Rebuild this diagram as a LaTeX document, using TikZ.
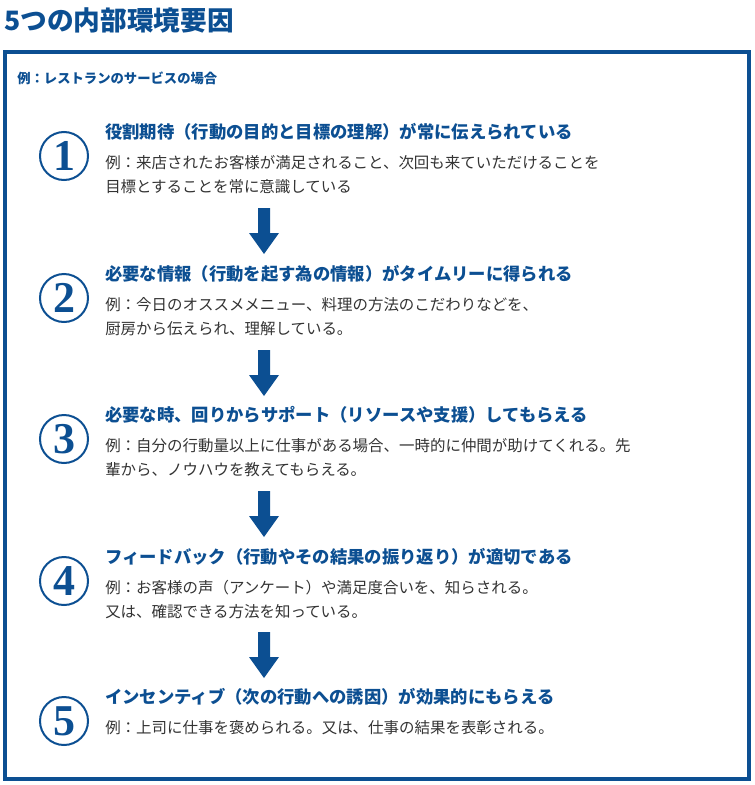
\documentclass[tikz,border=0pt]{standalone}
\usepackage{fontspec}
\setmainfont{Liberation Serif}
\newfontfamily\jpfont{Noto Sans CJK JP}
\usetikzlibrary{positioning}
\definecolor{mainblue}{HTML}{0C4F92}
\definecolor{bodygray}{HTML}{333333}
\begin{document}
\begin{tikzpicture}[x=0.75pt,y=-0.75pt,
  heading/.style={anchor=west, inner sep=0pt, text=mainblue, font=\jpfont\fontsize{13}{15}\selectfont\bfseries},
  body/.style={anchor=north west, inner sep=0pt, text=bodygray, align=left, font=\jpfont\fontsize{11.6}{18}\selectfont},
  numcircle/.style={circle, draw=mainblue, line width=1.5pt, minimum size=36pt, inner sep=0pt, text=mainblue, font=\fontsize{33}{33}\selectfont\bfseries},
  downarrow/.style={fill=mainblue}]
  \useasboundingbox (0,0) rectangle (755,785);
  \node[anchor=west, inner sep=0pt, text=mainblue, font=\jpfont\fontsize{20}{22}\selectfont\bfseries] (title) at (4,20) {5つの内部環境要因};
  \draw[mainblue, line width=2.4pt] (5,52) rectangle (749,779);
  \node[anchor=west, inner sep=0pt, text=mainblue, font=\jpfont\fontsize{10}{12}\selectfont\bfseries] (case) at (17,78) {例：レストランのサービスの場合};
  % items
  \foreach \y/\n/\head/\txt in {
    132/1/{役割期待（行動の目的と目標の理解）が常に伝えられている}/{例：来店されたお客様が満足されること、次回も来ていただけることを\\目標とすることを常に意識している},
    274/2/{必要な情報（行動を起す為の情報）がタイムリーに得られる}/{例：今日のオススメメニュー、料理の方法のこだわりなどを、\\厨房から伝えられ、理解している。},
    415/3/{必要な時、回りからサポート（リソースや支援）してもらえる}/{例：自分の行動量以上に仕事がある場合、一時的に仲間が助けてくれる。先\\輩から、ノウハウを教えてもらえる。},
    557/4/{フィードバック（行動やその結果の振り返り）が適切である}/{例：お客様の声（アンケート）や満足度合いを、知らされる。\\又は、確認できる方法を知っている。},
    697/5/{インセンティブ（次の行動への誘因）が効果的にもらえる}/{例：上司に仕事を褒められる。又は、仕事の結果を表彰される。}} {
    \node[numcircle] (num\n) at (64,\y+24) {\n};
    \node[heading] (head\n) at (105,\y) {\head};
    \node[body] (body\n) at (105,\y+23) {\txt};
  }
  % arrows
  \foreach \y in {208,350,491,632} {
    \fill[downarrow] (258,\y) -- (270,\y) -- (270,\y+25) -- (279,\y+25) -- (264,\y+46) -- (249,\y+25) -- (258,\y+25) -- cycle;
  }
\end{tikzpicture}
\end{document}
